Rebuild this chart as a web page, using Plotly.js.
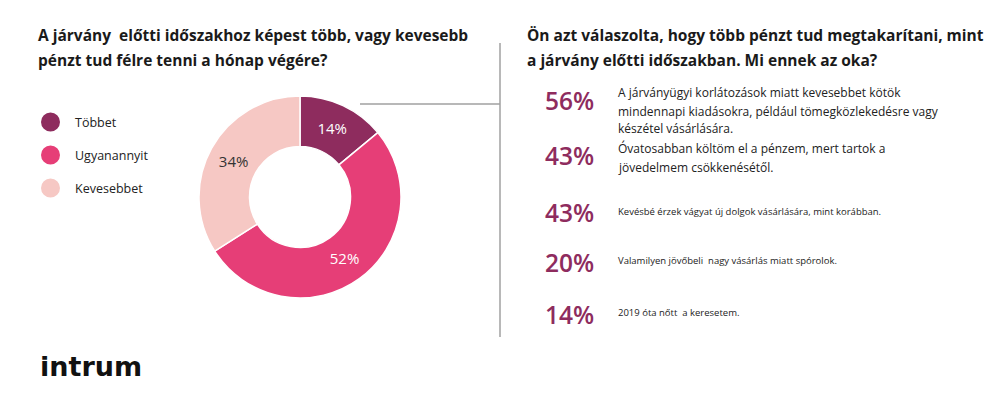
<!DOCTYPE html>
<html><head><meta charset="utf-8">
<script src="https://cdn.plot.ly/plotly-3.0.1.min.js"></script>
<style>html,body{margin:0;padding:0;background:#fff;}#chart{width:1000px;height:399px;}</style>
</head><body><div id="chart"></div>
<script>
// Donut data
const answerLabels = ["Többet", "Ugyanannyit", "Kevesebbet"];
const answerValues = [14, 52, 34];
const answerColors = ["#8E2C5E", "#E63E77", "#F6C8C4"];
const answerTextColors = ["#FFFFFF", "#FFFFFF", "#333333"];

// Reasons data
const reasonPct = ["56%", "43%", "43%", "20%", "14%"];
const reasonText = [
  "A járványügyi korlátozások miatt kevesebbet kötök<br>mindennapi kiadásokra, például tömegközlekedésre vagy<br>készétel vásárlására.",
  "Óvatosabban költöm el a pénzem, mert tartok a<br>jövedelmem csökkenésétől.",
  "Kevésbé érzek vágyat új dolgok vásárlására, mint korábban.",
  "Valamilyen jövőbeli  nagy vásárlás miatt spórolok.",
  "2019 óta nőtt  a keresetem."
];

const leftTitle = "A járvány  előtti időszakhoz képest több, vagy kevesebb<br>pénzt tud félre tenni a hónap végére?";
const rightTitle = "Ön azt válaszolta, hogy több pénzt tud megtakarítani, mint<br>a járvány előtti időszakban. Mi ennek az oka?";
const logoText = "intrum";

const W = 1000, H = 399;
const px = x => x / W;
const py = y => 1 - y / H;
const FONT = "Open Sans, Liberation Sans, sans-serif";

const trace = {
  type: "pie",
  labels: answerLabels,
  values: answerValues,
  hole: 0.5,
  sort: false,
  direction: "clockwise",
  rotation: 0,
  marker: {colors: answerColors, line: {color: "#FFFFFF", width: 1.5}},
  texttemplate: "%{value}%",
  textposition: "inside",
  insidetextorientation: "horizontal",
  textfont: {family: FONT, size: 15, color: answerTextColors},
  domain: {x: [px(197), px(403)], y: [py(298), py(96)]},
  showlegend: false,
  hoverinfo: "label+percent"
};

const annotations = [];
const shapes = [];

function multiLine(text, x, yFirst, step, font) {
  text.split("<br>").forEach((line, k) => {
    annotations.push({xref: "paper", yref: "paper", x: px(x), y: py(yFirst + k * step),
      xanchor: "left", yanchor: "middle", text: line, showarrow: false, align: "left", font: font});
  });
}

const titleFont = {family: FONT, size: 15.5, weight: 700, color: "#1a1a1a"};
multiLine(leftTitle, 36, 35, 25, titleFont);
multiLine(rightTitle, 525, 35, 25, titleFont);

// legend
const legendY = [122, 155, 188];
answerLabels.forEach((lab, i) => {
  const cy = legendY[i];
  shapes.push({type: "circle", xref: "paper", yref: "paper",
    x0: px(41), x1: px(60), y0: py(cy + 9.5), y1: py(cy - 9.5),
    fillcolor: answerColors[i], line: {width: 0}});
  annotations.push({xref: "paper", yref: "paper", x: px(73), y: py(cy), xanchor: "left", yanchor: "middle",
    text: lab, showarrow: false, font: {family: FONT, size: 12.5, color: "#222"}});
});

// connector lines
shapes.push({type: "line", xref: "paper", yref: "paper", x0: px(360), x1: px(500), y0: py(104), y1: py(104),
  line: {color: "#A0A0A0", width: 1.5}});
shapes.push({type: "line", xref: "paper", yref: "paper", x0: px(500), x1: px(500), y0: py(43), y1: py(337),
  line: {color: "#A0A0A0", width: 1.5}});

// reasons
const pctY = [101, 155, 212, 262, 314];
const textY = [93, 149, 211, 260, 312];
const textSize = [12, 12, 9.5, 9.5, 9.5];
reasonPct.forEach((p, i) => {
  annotations.push({xref: "paper", yref: "paper", x: px(543), y: py(pctY[i]), xanchor: "left", yanchor: "middle",
    text: p, showarrow: false, font: {family: FONT, size: 24.5, weight: 600, color: "#8E2C5E"}});
  multiLine(reasonText[i], 616, textY[i], 18, {family: FONT, size: textSize[i], color: "#222"});
});

// logo
annotations.push({xref: "paper", yref: "paper", x: px(38), y: py(366), xanchor: "left", yanchor: "middle",
  text: "<b>" + logoText + "</b>", showarrow: false, font: {family: "DejaVu Sans, sans-serif", size: 27, color: "#111"}});

const layout = {
  width: W, height: H,
  margin: {l: 0, r: 0, t: 0, b: 0},
  paper_bgcolor: "#fff", plot_bgcolor: "#fff",
  showlegend: false,
  annotations: annotations,
  shapes: shapes
};

Plotly.newPlot("chart", [trace], layout, {displayModeBar: false, staticPlot: true});
</script></body></html>
